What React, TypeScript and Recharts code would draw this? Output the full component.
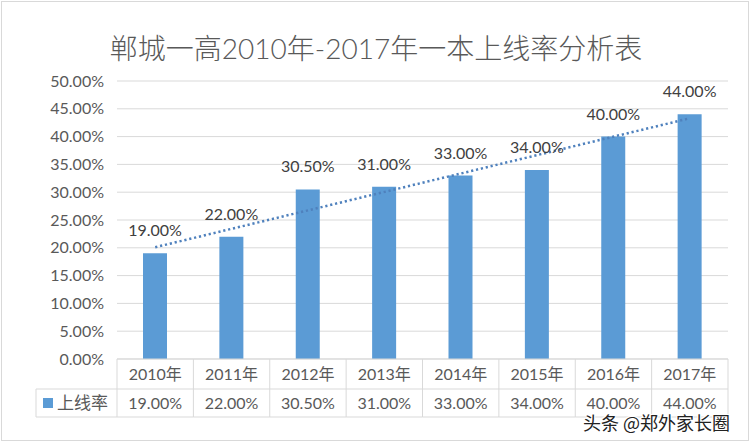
import React from 'react';
import { ComposedChart, Bar, Line, XAxis, YAxis, CartesianGrid, LabelList } from 'recharts';

const years = ['2010年', '2011年', '2012年', '2013年', '2014年', '2015年', '2016年', '2017年'];
const rates = [19, 22, 30.5, 31, 33, 34, 40, 44];
const trend: (number | null)[] = [20.1, null, null, null, null, null, null, 43.3];
const yTicks = [0, 5, 10, 15, 20, 25, 30, 35, 40, 45, 50];
const seriesName = '上线率';
const titleText = '郸城一高2010年-2017年一本上线率分析表';
const watermark = '头条 @郑外家长圈';

const data = years.map((y, i) => ({ year: y, rate: rates[i], trend: trend[i] }));

const W = 752;
const H = 444;
const M = { top: 81, right: 24, bottom: 0, left: 0 };
const Y_AXIS_W = 117;
const X_AXIS_H = 85;
const PLOT_LEFT = M.left + Y_AXIS_W;
const PLOT_RIGHT = W - M.right;
const HALF = (PLOT_RIGHT - PLOT_LEFT) / years.length / 2;
const ROW1 = 30;
const ROW2 = 28;
const LEGEND_LEFT = 36;
const LINE = '#d9d9d9';
const TXT = '#595959';
const FONT = "Lato, 'Noto Sans CJK SC', sans-serif";
const BLUE = '#5b9bd5';

const fmt = (v: number) => `${Number(v).toFixed(2)}%`;

const TableTick = (props: any) => {
  const { x, y, payload, index } = props;
  const i = typeof index === 'number' ? index : years.indexOf(payload.value);
  const l = x - HALF;
  const r = x + HALF;
  return (
    <g>
      <line x1={r} y1={y} x2={r} y2={y + ROW1 + ROW2} stroke={LINE} />
      <line x1={l} y1={y + ROW1} x2={r} y2={y + ROW1} stroke={LINE} />
      <line x1={l} y1={y + ROW1 + ROW2} x2={r} y2={y + ROW1 + ROW2} stroke={LINE} />
      <text x={x} y={y + ROW1 / 2 + 6} textAnchor="middle" fill={TXT} fontSize={16} fontFamily={FONT}>
        {payload.value}
      </text>
      <text x={x} y={y + ROW1 + ROW2 / 2 + 6} textAnchor="middle" fill={TXT} fontSize={16} fontFamily={FONT}>
        {fmt(rates[i])}
      </text>
      {i === 0 && (
        <g>
          <line x1={l} y1={y} x2={l} y2={y + ROW1 + ROW2} stroke={LINE} />
          <line x1={LEGEND_LEFT} y1={y + ROW1} x2={l} y2={y + ROW1} stroke={LINE} />
          <line x1={LEGEND_LEFT} y1={y + ROW1 + ROW2} x2={l} y2={y + ROW1 + ROW2} stroke={LINE} />
          <line x1={LEGEND_LEFT} y1={y + ROW1} x2={LEGEND_LEFT} y2={y + ROW1 + ROW2} stroke={LINE} />
          <rect x={LEGEND_LEFT + 7} y={y + ROW1 + ROW2 / 2 - 5} width={10} height={10} fill={BLUE} />
          <text x={LEGEND_LEFT + 21} y={y + ROW1 + ROW2 / 2 + 6} fill={TXT} fontSize={17} fontFamily={FONT}>
            {seriesName}
          </text>
        </g>
      )}
    </g>
  );
};

export default function App() {
  return (
    <div style={{ position: 'fixed', left: 0, top: 0, width: W, height: H, background: '#fff' }}>
      <div
        style={{
          position: 'absolute',
          left: 1,
          top: 1,
          width: W - 4,
          height: H - 4,
          border: `1.5px solid ${LINE}`,
          boxSizing: 'border-box',
        }}
      />
      <div
        style={{
          position: 'absolute',
          left: 0,
          top: 28,
          width: W,
          textAlign: 'center',
          fontSize: 28,
          fontWeight: 300,
          lineHeight: '40px',
          color: TXT,
          fontFamily: FONT,
        }}
      >
        {titleText}
      </div>
      <div style={{ position: 'absolute', left: 0, top: 0 }}>
        <ComposedChart width={W} height={H} data={data} margin={M}>
          <CartesianGrid horizontal vertical={false} stroke={LINE} />
          <XAxis
            dataKey="year"
            height={X_AXIS_H}
            axisLine={{ stroke: LINE }}
            tickLine={false}
            tickSize={0}
            tickMargin={0}
            interval={0}
            tick={<TableTick />}
          />
          <YAxis
            width={Y_AXIS_W}
            domain={[0, 50]}
            ticks={yTicks}
            interval={0}
            axisLine={false}
            tickLine={false}
            tickSize={0}
            tickMargin={13}
            tickFormatter={fmt}
            tick={{ fill: TXT, fontSize: 16, fontFamily: FONT }}
          />
          <Bar dataKey="rate" fill={BLUE} barSize={24} isAnimationActive={false}>
            <LabelList
              dataKey="rate"
              position="top"
              offset={17}
              formatter={(v: any) => fmt(v)}
              fill="#404040"
              fontSize={16}
              fontFamily={FONT}
            />
          </Bar>
          <Line
            dataKey="trend"
            connectNulls
            stroke="#4f81bd"
            strokeWidth={2.5}
            strokeDasharray="2.2 2.8"
            dot={false}
            activeDot={false}
            isAnimationActive={false}
          />
        </ComposedChart>
      </div>
      <div
        style={{
          position: 'absolute',
          left: 583,
          top: 410,
          fontSize: 18,
          lineHeight: '24px',
          color: '#222',
          fontFamily: "'Noto Sans CJK SC', sans-serif",
          textShadow: '1px 1px 0 #fff, -1px -1px 0 #fff, 1px -1px 0 #fff, -1px 1px 0 #fff',
          whiteSpace: 'nowrap',
        }}
      >
        {watermark}
      </div>
    </div>
  );
}
